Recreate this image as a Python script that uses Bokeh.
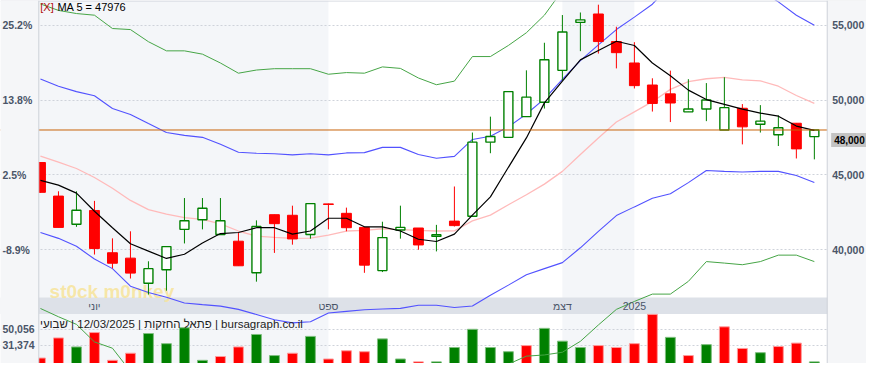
import numpy as np
from bokeh.plotting import figure
from bokeh.models import Range1d, FixedTicker, Grid, BoxAnnotation, Span, Label
from bokeh.core.properties import value
from bokeh.embed import file_html
from bokeh.resources import INLINE

# ---------------- data (weekly candles, 15/05/2024 .. 12/03/2025) ----------------
opens = [45830, 43590, 41710, 42630, 39810, 39450, 37770, 38680, 41370, 42010, 41030, 40580,
         38470, 42350, 42310, 41030, 43070, 42440, 41500, 38620, 41330, 41460, 40900, 41920,
         42240, 47190, 47510, 48890, 49850, 51980, 55180, 55740, 53900, 52470, 51000, 50410,
         49210, 49400, 48000, 49450, 48380, 47680, 48450, 47560]
highs = [45850, 43910, 43910, 43270, 40770, 41240, 39240, 40220, 43460, 43460, 43460, 41140,
         41970, 42350, 42950, 43090, 43090, 42820, 41500, 41880, 42950, 41460, 41670, 44230,
         47830, 48890, 50560, 51980, 53820, 55670, 55840, 56360, 54890, 53860, 51450, 51960,
         51390, 51130, 51520, 49730, 49660, 48980, 48450, 48000]
lows = [43820, 41500, 41540, 39690, 38770, 38090, 37020, 37280, 40430, 41370, 41030, 38940,
        37880, 39800, 40350, 40750, 41370, 41240, 38470, 38520, 40750, 40010, 39900, 41560,
        42240, 46450, 47510, 48890, 49430, 51300, 53260, 53100, 52110, 50770, 49230, 48530,
        49210, 48590, 48000, 47040, 47830, 46930, 46100, 46040]
closes = [43840, 41500, 42650, 40090, 39110, 38450, 38750, 40220, 41940, 42780, 41940, 38940,
          41560, 41750, 40730, 43090, 43030, 41480, 38980, 40820, 41500, 40330, 41010, 41620,
          47190, 47570, 50560, 50190, 52690, 54540, 55350, 53900, 53160, 50960, 49770, 49800,
          49400, 50000, 49490, 48210, 48590, 48150, 46740, 48000]
volumes = [16490, 39990, 29470, 46260, 13810, 22090, 45140, 33280, 51850, 13810, 18280, 29470,
           44020, 19400, 22090, 41780, 15370, 25000, 23880, 38870, 15370, 12020, 12020, 28800,
           50056, 28800, 23880, 31040, 51180, 36190, 28800, 31040, 28800, 33280, 67520, 40660,
           19400, 32160, 52970, 27680, 22760, 29920, 33950, 12020]
ma5 = [44640, 44320, 43790, 42580, 41480, 40410, 39920, 39430, 39710, 40460, 41090, 41160,
       41480, 41480, 41050, 41260, 42110, 42110, 41540, 41540, 41260, 40710, 40560, 41050,
       42320, 43540, 45510, 47470, 49810, 51260, 52680, 53300, 53920, 53640, 52470, 51620,
       50660, 50030, 49710, 49390, 49130, 48920, 48260, 47976]
band_mid = [46260, 45850, 45430, 44830, 44110, 43300, 42690, 42390, 42150, 42030, 41730, 41260,
            40920, 40840, 40770, 40790, 40990, 41260, 41300, 41410, 41350, 41300, 41260, 41270,
            41940, 42320, 43010, 43680, 44390, 45240, 46360, 47470, 48530, 49210, 49890, 50710,
            51230, 51420, 51510, 51350, 51280, 50920, 50300, 49770]
band1_upper = [51400, 50920, 50560, 50280, 49430, 49040, 48430, 47830, 47640, 47510, 47050, 46520,
               46450, 46410, 46340, 46410, 46340, 46470, 46490, 46840, 46840, 46360, 46110, 46240,
               47370, 47580, 48210, 49070, 50080, 51370, 52630, 53680, 54700, 55530, 56390, 57680,
               57960, 57530, 57780, 57510, 57310, 56550, 55660, 54990]
band1_lower = [41160, 40770, 40240, 39390, 38750, 37580, 37160, 36840, 36460, 36350, 36250, 36030,
               35690, 35340, 35130, 35210, 35790, 35900, 36010, 36060, 36100, 36310, 36310, 36160,
               36260, 36970, 37650, 38340, 38750, 39150, 40140, 41240, 42290, 42870, 43440, 43750,
               44490, 45300, 45240, 45200, 45240, 45240, 44960, 44490]
band2_upper = [56410, 55980, 55770, 55660, 54770, 54700, 53890, 53280, 53280, 53060, 52470, 51790,
               52000, 52090, 52090, 52090, 51720, 51830, 51790, 52210, 52110, 51470, 51020, 51260,
               52900, 52900, 53640, 54490, 55660, 57310, 58820, 59960, 61040, 61870, 62720, 64380,
               64550, 63620, 63910, 63700, 63330, 62190, 60950, 60320]
band2_lower = [36090, 35540, 35030, 33860, 33440, 31900, 31490, 31500, 31030, 30990, 31000, 30730,
               29840, 29590, 29460, 29500, 30250, 30690, 30820, 30610, 30590, 31140, 31500, 31290,
               30990, 31750, 32380, 32910, 32990, 33170, 33900, 34990, 36030, 36560, 37050, 37050,
               37900, 39220, 39120, 39010, 39220, 39650, 39650, 39220]
month_ticks = [3, 16, 29, 33]
month_labels = ["יוני", "ספט", "דצמ", "2025"]
price_ticks = [40000, 45000, 50000, 55000]
pct_labels = ["-8.9%", "2.5%", "13.8%", "25.2%"]
vol_ticks = [31374, 50056]
header = "שבועי\u200e | 12/03/2025 | \u200eפתאל החזקות\u200e | bursagraph.co.il"
watermark = "st0ck m0nkey"

# ---------------- styles ----------------
FONT = "Liberation Sans"
UP, DOWN = "#008000", "#ff0000"
LABEL = "#4a5568"
PANEL, SHADE, BAND, GRID, EDGE = "#f5f6f8", "#f4f6f9", "#dde1e8", "#cfd3da", "#cdd1d8"

n = len(closes)
x = np.arange(n)
o, h, l, c = (np.array(a, dtype=float) for a in (opens, highs, lows, closes))
up = c >= o

# ---------------- layout (positions given in pixels of the 882x379 design) ----------------
W, H = 866, 363
REF_W, REF_H = 882, 379
FIRST_X, STEP = 40.7, 18.33          # design x of the first week and the week spacing
PLOT_L, PLOT_R = 39, 842             # design x of the plot area edges


def x_at(rx):
    return (rx - FIRST_X) / STEP


x_range = Range1d(x_at(0), x_at(REF_W))
y_range = Range1d(32420, 56640)
vol_range = Range1d(10113, 434214)


def y_at(ry):
    return y_range.end - ry / REF_H * (y_range.end - y_range.start)


def vol_as_price(v):
    return y_range.start + (v - vol_range.start) / (vol_range.end - vol_range.start) * (y_range.end - y_range.start)


p = figure(width=W, height=H, output_backend="svg", toolbar_location=None,
           x_range=x_range, y_range=y_range, x_axis_location=None, y_axis_location=None,
           min_border=0, background_fill_color="white", border_fill_color=PANEL,
           outline_line_color=None)
p.extra_y_ranges = {"vol": vol_range}
p.xgrid.visible = False
p.ygrid.visible = False

# shading and the month strip
p.add_layout(BoxAnnotation(left=None, right=month_ticks[1], fill_color=SHADE, fill_alpha=1,
                           line_color=None, level="underlay"))
p.add_layout(BoxAnnotation(left=month_ticks[2], right=month_ticks[3], fill_color=SHADE, fill_alpha=1,
                           line_color=None, level="underlay"))
p.add_layout(BoxAnnotation(top=y_at(310), bottom=y_at(327.3), fill_color=BAND, fill_alpha=1,
                           line_color=None, level="underlay"))
grid_ticks = price_ticks + [round(vol_as_price(v)) for v in vol_ticks]
p.add_layout(Grid(dimension=1, ticker=FixedTicker(ticks=grid_ticks), grid_line_color=GRID,
                  grid_line_dash="2 2", grid_line_width=1))

# watermark
p.text(x=[x_at(50)], y=[y_at(303.5)], text=[watermark], text_font=value(FONT),
       text_font_size="19px", text_font_style="bold", text_color="#f7e49a", text_alpha=0.85,
       text_align="left", text_baseline="alphabetic")

# volume
vol_up = [c[i] >= (c[i - 1] if i else o[i]) for i in range(n)]
p.vbar(x=x, top=volumes, bottom=0, width=0.55, y_range_name="vol",
       fill_color=[UP if u else DOWN for u in vol_up],
       line_color=["#7fbf7f" if u else "#ff9a9a" for u in vol_up], line_width=1)

# bands
p.line(x, band2_upper, line_color="#46a546", line_width=1)
p.line(x, band2_lower, line_color="#46a546", line_width=1)
p.line(x, band1_upper, line_color="#5252ff", line_width=1.1)
p.line(x, band1_lower, line_color="#5252ff", line_width=1.1)
p.line(x, band_mid, line_color="#ffbaba", line_width=1.3)

# candles
p.segment(x0=x, y0=l, x1=x, y1=h, line_color=[UP if u else DOWN for u in up], line_width=1)
p.vbar(x=x[~up], top=o[~up], bottom=c[~up], width=0.55, fill_color=DOWN, line_color=DOWN, line_width=1)
p.vbar(x=x[up], top=c[up], bottom=o[up], width=0.5, fill_color="white", line_color=UP, line_width=1.4)

# MA 5
p.line(x, ma5, line_color="black", line_width=1.2)

# month labels and header
p.text(x=month_ticks, y=[y_at(318.7)] * len(month_ticks), text=month_labels, text_font=value(FONT),
       text_font_size="10.5px", text_color=LABEL, text_align="center", text_baseline="middle")
p.text(x=[x_at(308)], y=[y_at(338)], text=[header], text_font=value(FONT), text_font_size="11.5px",
       text_color="#222222", text_align="right", text_baseline="alphabetic")

# last price line and top edge
p.add_layout(Span(location=closes[-1], dimension="width", line_color="#c8640a", line_width=1))
p.add_layout(Span(location=y_at(0.5), dimension="width", line_color=EDGE, line_width=1))

# side panels (scale areas)
p.add_layout(BoxAnnotation(left=None, right=x_at(PLOT_L), fill_color=PANEL, fill_alpha=1, line_color=None))
p.add_layout(BoxAnnotation(left=x_at(PLOT_R), right=None, fill_color=PANEL, fill_alpha=1, line_color=None))
p.add_layout(Span(location=x_at(PLOT_L), dimension="height", line_color=EDGE, line_width=1))
p.add_layout(Span(location=x_at(PLOT_R), dimension="height", line_color=EDGE, line_width=1))

# left scale labels (percent and volume)
for t, s in zip(price_ticks, pct_labels):
    p.add_layout(Label(x=x_at(2), y=t, text=s, text_font=FONT, text_font_size="10.5px",
                       text_font_style="bold", text_color=LABEL, text_align="left",
                       text_baseline="middle"))
for v in vol_ticks:
    p.add_layout(Label(x=x_at(2), y=vol_as_price(v), text=f"{v:,}", text_font=FONT,
                       text_font_size="10.5px", text_font_style="bold", text_color=LABEL,
                       text_align="left", text_baseline="middle"))

# right scale labels
for t in price_ticks:
    p.add_layout(Label(x=x_at(847), y=t, text=f"{t:,}", text_font=FONT, text_font_size="10.5px",
                       text_font_style="bold", text_color=LABEL, text_align="left",
                       text_baseline="middle"))

# last price tag
p.add_layout(Label(x=x_at(846), y=closes[-1], y_offset=-3, text=f"{closes[-1]:,}", text_font=FONT,
                   text_font_size="10px", text_font_style="bold", text_color="black",
                   text_align="left", text_baseline="top", background_fill_color="#c3c3c3",
                   padding=3))

# MA legend
p.add_layout(Label(x=x_at(40.5), y=y_at(0.8), text="[X]", text_font=FONT, text_font_size="11px",
                   text_color="#b01010", text_align="left", text_baseline="top"))
p.add_layout(Label(x=x_at(58), y=y_at(0.8), text=f"MA 5 = {ma5[-1]}", text_font=FONT,
                   text_font_size="11px", text_color="black", text_align="left", text_baseline="top"))

open("out.html", "w", encoding="utf-8").write(file_html(p, INLINE))
